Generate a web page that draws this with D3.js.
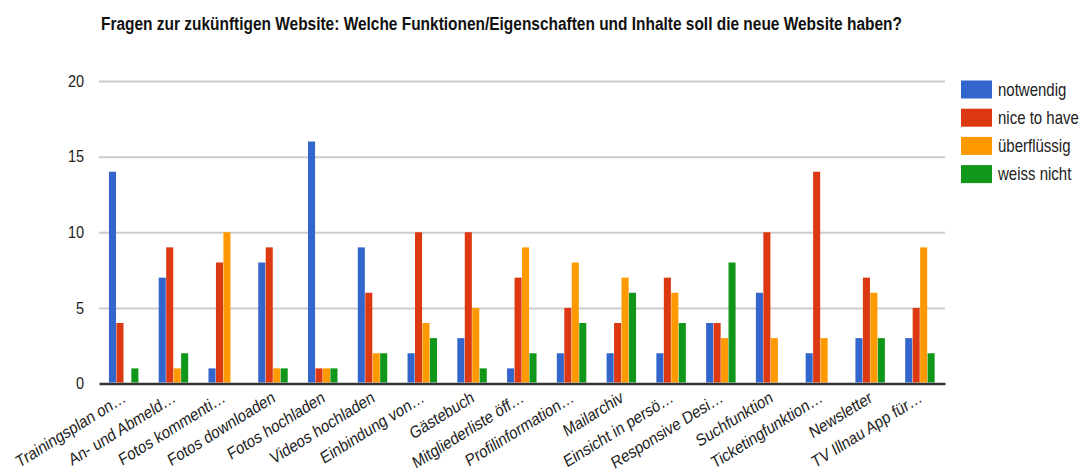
<!DOCTYPE html>
<html>
<head>
<meta charset="utf-8">
<script src="https://cdn.jsdelivr.net/npm/d3@7"></script>
<style>
  html, body { margin: 0; padding: 0; background: #fff; }
  svg { display: block; font-family: "Liberation Sans", Arial, sans-serif; }
</style>
</head>
<body>
<svg id="chart" width="1083" height="473"></svg>
<script>
// Survey answers per feature of the future website
const categories = [
  "Trainingsplan on…", "An- und Abmeld…", "Fotos kommenti…", "Fotos downloaden",
  "Fotos hochladen", "Videos hochladen", "Einbindung von…", "Gästebuch",
  "Mitgliederliste öff…", "Profilinformation…", "Mailarchiv", "Einsicht in persö…",
  "Responsive Desi…", "Suchfunktion", "Ticketingfunktion…", "Newsletter", "TV Illnau App für…"
];
const seriesNames = ["notwendig", "nice to have", "überflüssig", "weiss nicht"];
const notwendig     = [14, 7, 1, 8, 16, 9, 2, 3, 1, 2, 2, 2, 4, 6, 2, 3, 3];
const niceToHave    = [4, 9, 8, 9, 1, 6, 10, 10, 7, 5, 4, 7, 4, 10, 14, 7, 5];
const ueberfluessig = [0, 1, 10, 1, 1, 2, 4, 5, 9, 8, 7, 6, 3, 3, 3, 6, 9];
const weissNicht    = [1, 2, 0, 1, 1, 2, 3, 1, 2, 4, 6, 4, 8, 0, 0, 3, 2];
const yTicks = [0, 5, 10, 15, 20];
const colors = ["#3366cc", "#dc3912", "#ff9900", "#109618"];
const titleText = "Fragen zur zukünftigen Website: Welche Funktionen/Eigenschaften und Inhalte soll die neue Website haben?";

const seriesValues = [notwendig, niceToHave, ueberfluessig, weissNicht];
const rows = categories.map((c, i) => ({
  category: c,
  values: seriesNames.map((s, k) => ({ series: s, value: seriesValues[k][i], color: colors[k] }))
}));

const svg = d3.select("#chart");
const plot = { left: 99, right: 945, top: 81, bottom: 383.5 };
const textStretch = 1.17;

const x0 = d3.scaleBand().domain(categories).range([plot.left, plot.right]);
const step = x0.step();
const x1 = d3.scaleBand().domain(seriesNames).range([step * 0.2, step * 0.8]);
const y = d3.scaleLinear().domain([0, 20]).range([plot.bottom, plot.top]);

// Title, fitted to its line width
const title = svg.append("text")
  .attr("font-weight", "bold")
  .attr("font-size", 14)
  .attr("fill", "#111")
  .text(titleText);
const measured = title.node().getComputedTextLength();
const titleSize = 14 * 802 / measured;
title.attr("font-size", titleSize)
  .attr("transform", `translate(101,29.5) scale(1,${17.6 / titleSize})`);

// Gridlines and y labels
const yAxis = svg.append("g")
  .attr("transform", `translate(${plot.left},0)`)
  .call(d3.axisLeft(y).tickValues(yTicks).tickSize(-(plot.right - plot.left)).tickPadding(15));
yAxis.select(".domain").remove();
yAxis.selectAll(".tick line").attr("stroke", "#cccccc").attr("stroke-width", 2);
yAxis.selectAll(".tick text")
  .attr("font-size", 14.5)
  .attr("fill", "#222")
  .attr("font-family", "Liberation Sans, Arial, sans-serif")
  .attr("transform", `scale(1,1.14)`);
yAxis.selectAll(".tick").filter(d => d === 0).select("line").remove();

// Bars
const groups = svg.append("g").selectAll("g")
  .data(rows)
  .join("g")
  .attr("transform", d => `translate(${x0(d.category)},0)`);
groups.selectAll("rect")
  .data(d => d.values)
  .join("rect")
  .attr("x", d => x1(d.series))
  .attr("width", x1.bandwidth() - 0.4)
  .attr("y", d => y(d.value))
  .attr("height", d => y(0) - y(d.value) - 1)
  .attr("fill", d => d.color);

// X axis with slanted labels
const xAxis = svg.append("g")
  .attr("transform", `translate(0,${y(0)})`)
  .call(d3.axisBottom(x0).tickSize(0).tickSizeOuter(0));
xAxis.select(".domain").attr("stroke", "#333").attr("stroke-width", 2.6);
xAxis.selectAll(".tick text")
  .attr("font-size", 14.6)
  .attr("fill", "#222")
  .attr("font-family", "Liberation Sans, Arial, sans-serif")
  .attr("text-anchor", "end")
  .attr("x", 0).attr("y", 0).attr("dy", 0)
  .attr("transform", `translate(3,17.5) scale(1,${textStretch}) rotate(-28)`);

// Legend
const legend = svg.append("g").selectAll("g")
  .data(seriesNames)
  .join("g")
  .attr("transform", (d, i) => `translate(961,${89.5 + i * 28.2})`);
legend.append("rect")
  .attr("x", 0).attr("y", -9)
  .attr("width", 31).attr("height", 18)
  .attr("fill", (d, i) => colors[i]);
legend.append("text")
  .attr("x", 37).attr("y", 0).attr("dy", "0.35em")
  .attr("font-size", 15)
  .attr("fill", "#222")
  .attr("transform", `translate(37,0) scale(1,${textStretch}) translate(-37,0)`)
  .text(d => d);
</script>
</body>
</html>
